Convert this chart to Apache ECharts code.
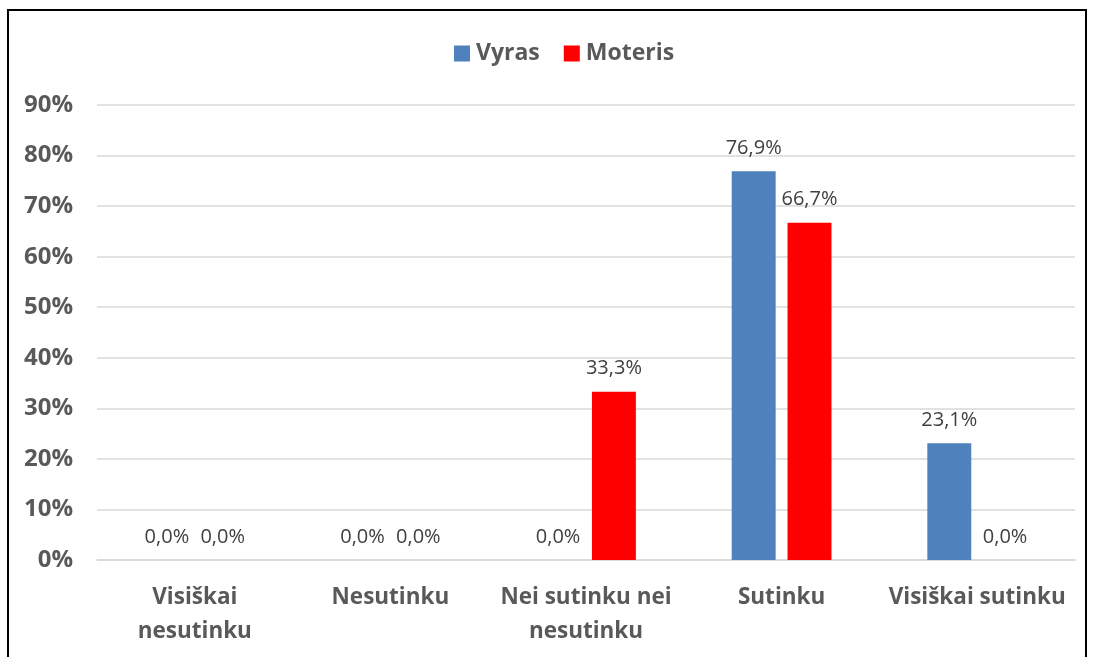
<!DOCTYPE html>
<html>
<head>
<meta charset="utf-8">
<script src="https://cdn.jsdelivr.net/npm/echarts@6/dist/echarts.min.js"></script>
<style>
  html, body { margin: 0; padding: 0; background: #fff; }
  #frame { position: absolute; left: 7px; top: 9px; width: 1080px; height: 660px; border: 2px solid #000; box-sizing: border-box; }
  #chart { position: absolute; left: 0; top: 0; width: 1093px; height: 657px; }
</style>
</head>
<body>
<div id="frame"></div>
<div id="chart"></div>
<script>
const categories = ['Visiškai\nnesutinku', 'Nesutinku', 'Nei sutinku nei\nnesutinku', 'Sutinku', 'Visiškai sutinku'];
const vyras = [0, 0, 0, 76.9, 23.1];
const moteris = [0, 0, 33.3, 66.7, 0];

const font = '"Open Sans", sans-serif';
const pct = p => p.value.toFixed(1).replace('.', ',') + '%';

const chart = echarts.init(document.getElementById('chart'));
chart.setOption({
  animation: false,
  textStyle: { fontFamily: font },
  legend: {
    top: 37,
    left: 449,
    icon: 'rect',
    itemWidth: 16,
    itemHeight: 16,
    itemGap: 24,
    textStyle: { fontSize: 23, fontWeight: 'bold', color: '#595959', fontFamily: font, padding: [0, 0, 0, 1] },
    data: ['Vyras', 'Moteris']
  },
  grid: { left: 97, right: 18, top: 105, bottom: 97 },
  xAxis: {
    type: 'category',
    data: categories,
    axisLine: { lineStyle: { color: '#d9d9d9', width: 1.5 } },
    axisTick: { show: false },
    axisLabel: { margin: 21, fontSize: 22.5, fontWeight: 'bold', color: '#595959', lineHeight: 34, fontFamily: font, interval: 0 }
  },
  yAxis: {
    type: 'value',
    min: 0,
    max: 90,
    interval: 10,
    axisLabel: { formatter: '{value}%', margin: 24, fontSize: 24, fontWeight: 'bold', color: '#595959', fontFamily: font },
    splitLine: { lineStyle: { color: '#d9d9d9', width: 1.5 } },
    axisLine: { show: false },
    axisTick: { show: false }
  },
  series: [
    {
      name: 'Vyras',
      type: 'bar',
      data: vyras,
      barGap: '27%',
      barCategoryGap: '49%',
      itemStyle: { color: '#4f81bd' },
      label: { show: true, position: 'top', distance: 13, formatter: pct, fontSize: 20, color: '#404040', fontFamily: font }
    },
    {
      name: 'Moteris',
      type: 'bar',
      data: moteris,
      itemStyle: { color: '#ff0000' },
      label: { show: true, position: 'top', distance: 13, formatter: pct, fontSize: 20, color: '#404040', fontFamily: font }
    }
  ]
});
</script>
</body>
</html>
